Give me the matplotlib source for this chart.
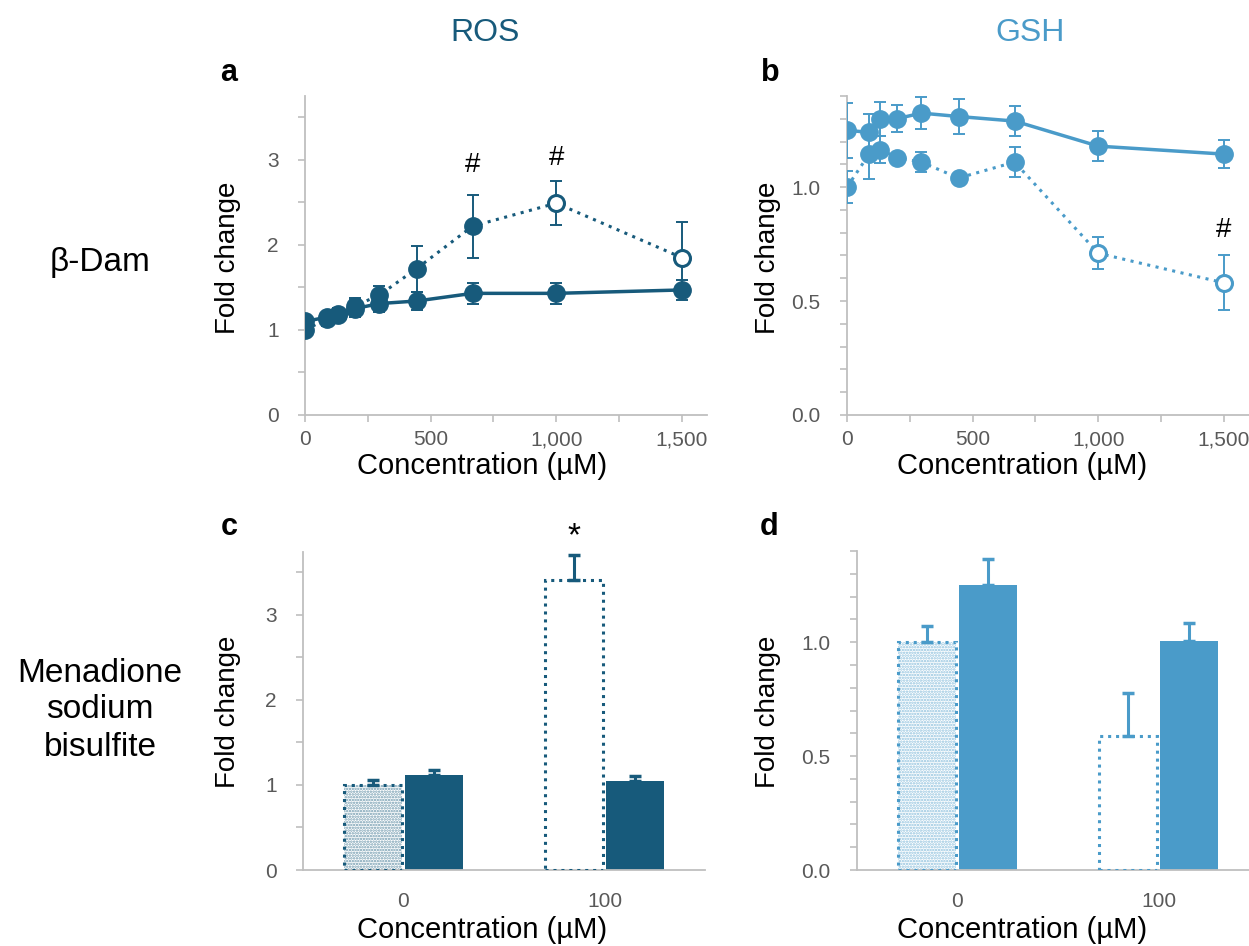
import numpy as np
import matplotlib
matplotlib.use("Agg")
from matplotlib import pyplot as plt
from matplotlib.ticker import MultipleLocator, FuncFormatter

plt.rcParams['font.family'] = ['Liberation Sans', 'DejaVu Sans']
plt.rcParams['hatch.linewidth'] = 1.2

DARK = "#175A7B"
LIGHT = "#4A9BC9"
GRAY_TXT = "#595959"
SPINE = "#BFBFBF"

# beta-Dam concentrations (uM)
conc = [0, 88, 132, 198, 296, 444, 667, 1000, 1500]

# panel a: ROS
ros_solid = [1.10, 1.15, 1.19, 1.25, 1.31, 1.34, 1.43, 1.43, 1.47]
ros_solid_err = [0.06, 0.06, 0.07, 0.10, 0.10, 0.11, 0.12, 0.12, 0.12]
ros_dot = [1.00, 1.13, 1.17, 1.28, 1.41, 1.72, 2.22, 2.49, 1.85]
ros_dot_err = [0.05, 0.08, 0.08, 0.10, 0.11, 0.27, 0.37, 0.26, 0.42]
ros_dot_open = [False, False, False, False, False, False, False, True, True]

# panel b: GSH
gsh_solid = [1.25, 1.24, 1.30, 1.30, 1.325, 1.31, 1.29, 1.18, 1.145]
gsh_solid_err = [0.12, 0.08, 0.075, 0.06, 0.07, 0.077, 0.067, 0.067, 0.06]
gsh_dot = [1.00, 1.145, 1.165, 1.13, 1.11, 1.04, 1.11, 0.71, 0.58]
gsh_dot_err = [0.07, 0.11, 0.06, 0.0, 0.045, 0.0, 0.067, 0.07, 0.12]
gsh_dot_open = [False, False, False, False, False, False, False, True, True]

# menadione bars
men_cats = ["0", "100"]
ros_bar_dot = [1.00, 3.415]
ros_bar_dot_err = [0.06, 0.29]
ros_bar_solid = [1.12, 1.05]
ros_bar_solid_err = [0.06, 0.055]
gsh_bar_dot = [1.00, 0.59]
gsh_bar_dot_err = [0.07, 0.186]
gsh_bar_solid = [1.25, 1.007]
gsh_bar_solid_err = [0.117, 0.075]

W, H = 1249, 946
fig = plt.figure(figsize=(W / 100, H / 100), dpi=100)


def px_axes(left, top, right, bottom):
    return fig.add_axes([left / W, 1 - bottom / H, (right - left) / W, (bottom - top) / H])


def style_axes(ax):
    for s in ["top", "right"]:
        ax.spines[s].set_visible(False)
    for s in ["left", "bottom"]:
        ax.spines[s].set_color(SPINE)
        ax.spines[s].set_linewidth(1.3)
    ax.tick_params(which="both", colors=SPINE, labelcolor=GRAY_TXT, labelsize=15, width=1.2)
    ax.tick_params(axis="y", which="both", length=5, pad=14)
    ax.tick_params(axis="x", which="both", length=5, pad=6)
    ax.patch.set_alpha(0)


def line_panel(ax, y_s, e_s, y_d, e_d, open_d, color, ymax, major, minor, fmt):
    ax.errorbar(conc, y_s, yerr=e_s, color=color, lw=2.5, ecolor=color, elinewidth=1.4,
                capsize=4, capthick=1.4, fmt="-o", ms=12.5, zorder=3)
    ax.errorbar(conc, y_d, yerr=e_d, ecolor=color, elinewidth=1.4,
                capsize=4, capthick=1.4, fmt="none", zorder=3)
    ax.plot(conc, y_d, ls=(0, (1, 1.8)), lw=2.2, color=color, zorder=3)
    xs = np.array(conc)
    yd = np.array(y_d)
    op = np.array(open_d)
    ax.plot(xs[~op], yd[~op], "o", ms=12.5, color=color, zorder=4)
    ax.plot(xs[op], yd[op], "o", ms=11.5, mfc="white", mec=color, mew=2.2, zorder=4)
    ax.set_xlim(0, 1600)
    ax.set_ylim(0, ymax)
    ax.xaxis.set_major_locator(MultipleLocator(500))
    ax.xaxis.set_minor_locator(MultipleLocator(250))
    ax.xaxis.set_major_formatter(FuncFormatter(lambda v, p: f"{int(v):,}"))
    ax.yaxis.set_major_locator(MultipleLocator(major))
    ax.yaxis.set_minor_locator(MultipleLocator(minor))
    ax.yaxis.set_major_formatter(FuncFormatter(lambda v, p: fmt.format(v)))
    style_axes(ax)


def bar_panel(ax, y_d, e_d, y_s, e_s, color, ymax, major, minor, fmt):
    x = np.arange(len(men_cats))
    off, w = 0.152, 0.29
    # dotted fill for the control bar
    ax.bar(x[:1] - off, y_d[:1], w, color="white", edgecolor=color, hatch="......",
           linewidth=0, alpha=0.6, zorder=2)
    ax.bar(x - off, y_d, w, fill=False, edgecolor=color, linewidth=2.2,
           linestyle=(0, (1, 1.6)), zorder=3)
    ax.bar(x + off, y_s, w, color=color, edgecolor=color, linewidth=0, zorder=2)
    ax.errorbar(x - off, y_d, yerr=[np.zeros(len(x)), e_d], fmt="none", ecolor=color,
                elinewidth=2.2, capsize=4, capthick=2.5, zorder=3)
    ax.errorbar(x + off, y_s, yerr=[np.zeros(len(x)), e_s], fmt="none", ecolor=color,
                elinewidth=2.2, capsize=4, capthick=2.5, zorder=3)
    ax.set_xlim(-0.5, 1.5)
    ax.set_ylim(0, ymax)
    ax.set_xticks(x)
    ax.set_xticklabels(men_cats)
    ax.yaxis.set_major_locator(MultipleLocator(major))
    ax.yaxis.set_minor_locator(MultipleLocator(minor))
    ax.yaxis.set_major_formatter(FuncFormatter(lambda v, p: fmt.format(v)))
    style_axes(ax)
    ax.tick_params(axis="x", length=0, pad=16)


ax_a = px_axes(305, 96, 707, 415)
line_panel(ax_a, ros_solid, ros_solid_err, ros_dot, ros_dot_err, ros_dot_open, DARK,
           3.75, 1, 0.5, "{:.0f}")
ax_a.text(667, 2.94, "#", ha="center", va="center", fontsize=20)
ax_a.text(1000, 3.02, "#", ha="center", va="center", fontsize=20)

ax_b = px_axes(847, 96, 1249, 415)
line_panel(ax_b, gsh_solid, gsh_solid_err, gsh_dot, gsh_dot_err, gsh_dot_open, LIGHT,
           1.4, 0.5, 0.1, "{:.1f}")
ax_b.text(1500, 0.81, "#", ha="center", va="center", fontsize=20)

ax_c = px_axes(303, 552, 705, 870)
bar_panel(ax_c, ros_bar_dot, ros_bar_dot_err, ros_bar_solid, ros_bar_solid_err, DARK,
          3.74, 1, 0.5, "{:.0f}")
ax_c.text(1 - 0.152, 3.92, "*", ha="center", va="center", fontsize=24, clip_on=False)

ax_d = px_axes(857, 551, 1259, 870)
bar_panel(ax_d, gsh_bar_dot, gsh_bar_dot_err, gsh_bar_solid, gsh_bar_solid_err, LIGHT,
          1.4, 0.5, 0.1, "{:.1f}")

# axis labels
for x0, y0 in [(228, 258), (228, 712), (768, 258), (768, 712)]:
    fig.text(x0 / W, 1 - y0 / H, "Fold change", rotation=90, ha="center", va="center",
             fontsize=20)
for x0, y0 in [(482, 474), (482, 938), (1022, 474), (1022, 938)]:
    fig.text(x0 / W, 1 - y0 / H, "Concentration (\u00b5M)", ha="center", va="baseline",
             fontsize=21)

# column / row headings
fig.text(485 / W, 1 - 33 / H, "ROS", ha="center", va="center", fontsize=23, color=DARK)
fig.text(1030 / W, 1 - 33 / H, "GSH", ha="center", va="center", fontsize=23, color=LIGHT)
fig.text(100 / W, 1 - 262 / H, "\u03b2-Dam", ha="center", va="center", fontsize=24)
fig.text(100 / W, 1 - 710 / H, "Menadione\nsodium\nbisulfite", ha="center", va="center",
         fontsize=24, linespacing=1.25)

# panel letters
for x0, y0, s in [(229, 73, "a"), (770, 73, "b"), (229, 527, "c"), (769, 527, "d")]:
    fig.text(x0 / W, 1 - y0 / H, s, ha="center", va="center", fontsize=22, fontweight="bold")

plt.savefig("out.png", dpi=100)
